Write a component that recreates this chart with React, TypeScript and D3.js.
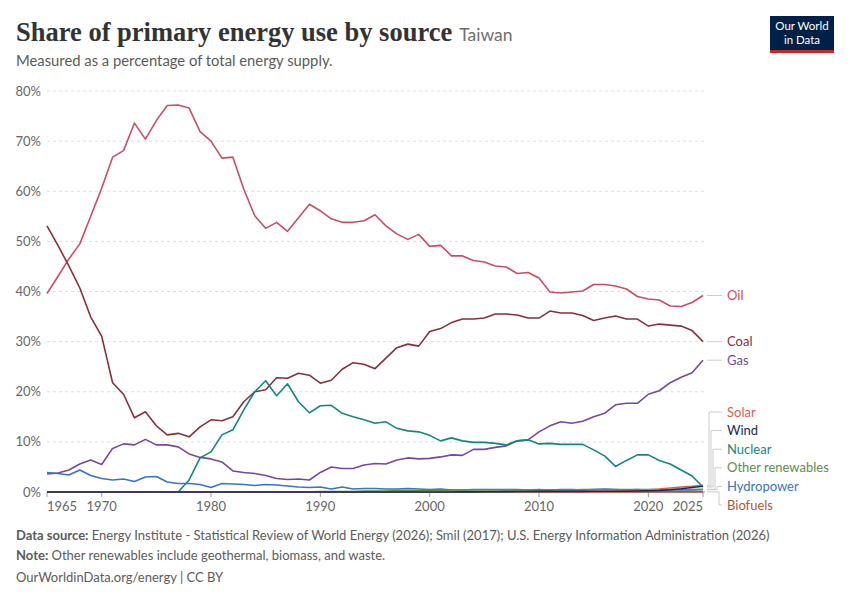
import * as d3 from 'd3'

const years = d3.range(1965, 2026)

const oil = [39.6, 43, 46.5, 49.5, 55, 60.6, 66.8, 68.1, 73.6, 70.4, 74.1, 77.1, 77.2, 76.6, 71.9, 70, 66.6, 66.8, 60.4, 55.1,
  52.6, 53.8, 52, 54.7, 57.4, 56.1, 54.5, 53.8, 53.8, 54.1, 55.3, 53.1, 51.5, 50.4, 51.4, 49, 49.2, 47.1, 47.1, 46.2,
  45.9, 45.1, 44.9, 43.6, 43.8, 42.7, 39.9, 39.7, 39.9, 40.1, 41.4, 41.4, 41.1, 40.5, 39, 38.5, 38.3, 37.1, 37, 37.8, 39.2]

const coal = [53.1, 49.2, 45.1, 40.7, 34.9, 31.1, 21.8, 19.5, 14.8, 16, 13.2, 11.4, 11.7, 11, 13, 14.4, 14.2, 15, 18, 20,
  20.4, 22.8, 22.7, 23.7, 23.3, 21.7, 22.3, 24.5, 25.8, 25.5, 24.6, 26.7, 28.8, 29.5, 29.1, 32, 32.6, 33.8, 34.5, 34.5,
  34.7, 35.5, 35.5, 35.3, 34.7, 34.7, 36.1, 35.7, 35.7, 35.2, 34.2, 34.7, 35.1, 34.5, 34.5, 33.1, 33.5, 33.3, 33.1, 32.2, 30]

const gas = [3.6, 3.8, 4.4, 5.6, 6.4, 5.5, 8.7, 9.6, 9.4, 10.5, 9.4, 9.4, 9, 7.6, 6.9, 6.6, 6, 4.2, 3.9, 3.7,
  3.3, 2.7, 2.5, 2.6, 2.4, 3.9, 5, 4.7, 4.7, 5.4, 5.7, 5.6, 6.4, 6.8, 6.6, 6.7, 7, 7.4, 7.3, 8.5,
  8.5, 8.9, 9.2, 10.2, 10.4, 12, 13.2, 14, 13.7, 14.1, 15, 15.7, 17.4, 17.7, 17.7, 19.5, 20.2, 21.8, 22.9, 23.8, 26.3]

const nuclear = [0, 0, 0, 0, 0, 0, 0, 0, 0, 0, 0, 0, 0, 2.4, 6.8, 8, 11.4, 12.4, 16.4, 20,
  22.2, 19.2, 21.6, 18, 15.8, 17.2, 17.3, 15.7, 15, 14.4, 13.7, 14, 12.7, 12.2, 12, 11.3, 10.2, 10.8, 10.2, 9.9,
  9.9, 9.7, 9.4, 10.2, 10.4, 9.6, 9.7, 9.5, 9.5, 9.5, 8.4, 7.2, 5.1, 6.3, 7.4, 7.4, 6.3, 5.6, 4.4, 3.2, 1.0]

const hydro = [3.9, 3.7, 3.4, 4.4, 3.3, 2.7, 2.4, 2.6, 2.1, 3, 3.1, 2, 1.7, 1.7, 1.5, 0.9, 1.7, 1.6, 1.5, 1.3,
  1.5, 1.4, 1.2, 1, 0.9, 1, 0.6, 1, 0.6, 0.7, 0.7, 0.6, 0.6, 0.7, 0.6, 0.5, 0.6, 0.4, 0.4, 0.5,
  0.5, 0.5, 0.5, 0.5, 0.4, 0.5, 0.4, 0.5, 0.5, 0.4, 0.5, 0.6, 0.5, 0.4, 0.5, 0.3, 0.3, 0.4, 0.4, 0.4, 0.45]

const otherRenewables = [0, 0, 0, 0, 0, 0, 0, 0, 0, 0, 0, 0, 0, 0, 0, 0, 0, 0, 0, 0,
  0, 0, 0, 0, 0, 0.1, 0.1, 0.1, 0.1, 0.2, 0.2, 0.2, 0.3, 0.3, 0.3, 0.3, 0.3, 0.4, 0.4, 0.4,
  0.4, 0.4, 0.4, 0.4, 0.4, 0.4, 0.4, 0.4, 0.4, 0.5, 0.5, 0.5, 0.5, 0.5, 0.5, 0.5, 0.5, 0.5, 0.5, 0.5, 0.55]

const biofuels = [0, 0, 0, 0, 0, 0, 0, 0, 0, 0, 0, 0, 0, 0, 0, 0, 0, 0, 0, 0,
  0, 0, 0, 0, 0, 0, 0, 0, 0, 0, 0, 0, 0, 0, 0, 0, 0, 0, 0, 0,
  0, 0, 0.01, 0.02, 0.03, 0.03, 0.03, 0.03, 0.02, 0.02, 0.02, 0.02, 0.02, 0.02, 0.02, 0.02, 0.02, 0.02, 0.02, 0.02, 0.02]

const solar = [0, 0, 0, 0, 0, 0, 0, 0, 0, 0, 0, 0, 0, 0, 0, 0, 0, 0, 0, 0,
  0, 0, 0, 0, 0, 0, 0, 0, 0, 0, 0, 0, 0, 0, 0, 0, 0, 0, 0, 0,
  0, 0, 0, 0, 0, 0.01, 0.02, 0.03, 0.05, 0.07, 0.1, 0.12, 0.15, 0.2, 0.3, 0.45, 0.6, 0.8, 1.0, 1.15, 1.35]

const wind = [0, 0, 0, 0, 0, 0, 0, 0, 0, 0, 0, 0, 0, 0, 0, 0, 0, 0, 0, 0,
  0, 0, 0, 0, 0, 0, 0, 0, 0, 0, 0, 0, 0, 0, 0, 0, 0.01, 0.01, 0.02, 0.03,
  0.04, 0.06, 0.08, 0.1, 0.1, 0.12, 0.12, 0.12, 0.13, 0.13, 0.14, 0.14, 0.14, 0.16, 0.2, 0.25, 0.3, 0.45, 0.65, 0.9, 1.15]

const series = [
  { name: 'Oil', values: oil, color: '#cb4d64', group: 'top' },
  { name: 'Coal', values: coal, color: '#86303d', group: 'top' },
  { name: 'Gas', values: gas, color: '#7548a0', group: 'top' },
  { name: 'Solar', values: solar, color: '#d9604f', group: 'bottom' },
  { name: 'Wind', values: wind, color: '#0f2c62', group: 'bottom' },
  { name: 'Nuclear', values: nuclear, color: '#11877f', group: 'bottom' },
  { name: 'Other renewables', values: otherRenewables, color: '#5f8d45', group: 'bottom' },
  { name: 'Hydropower', values: hydro, color: '#3a72c8', group: 'bottom' },
  { name: 'Biofuels', values: biofuels, color: '#a8593a', group: 'bottom' },
]

const drawOrder = ['Oil', 'Coal', 'Gas', 'Nuclear', 'Hydropower', 'Other renewables', 'Biofuels', 'Solar', 'Wind']
const yTicks = [0, 10, 20, 30, 40, 50, 60, 70, 80]
const xTicks = [1965, 1970, 1980, 1990, 2000, 2010, 2020, 2025]

const W = 850
const H = 600
const font = 'Lato, "Noto Sans", sans-serif'

export default function App() {
  const x = d3.scaleLinear().domain([1965, 2025]).range([47, 703])
  const y = d3.scaleLinear().domain([0, 80]).range([492, 91])

  const line = d3.line<number>()
    .x((_, i) => x(years[i]))
    .y(d => y(d))

  // label layout: top-down push, then pull the block up under the bottom limit
  const gap = 18.6
  const maxY = 505
  const labels = series.map(s => ({ ...s, target: y(s.values[s.values.length - 1]), pos: 0 }))
  labels.forEach((l, i) => {
    l.pos = i === 0 ? l.target : Math.max(l.target, labels[i - 1].pos + gap)
  })
  const overflow = labels[labels.length - 1].pos - maxY
  if (overflow > 0) {
    for (let i = labels.length - 1; i >= 0; i--) {
      const limit = i === labels.length - 1 ? maxY : labels[i + 1].pos - gap
      labels[i].pos = Math.min(labels[i].pos, limit)
    }
  }
  const bottomLabels = labels.filter(l => l.group === 'bottom')

  const ordered = drawOrder.map(n => series.find(s => s.name === n)!)

  return (
    <div style={{ position: 'absolute', left: 0, top: 0 }}>
      <svg width={W} height={H} style={{ display: 'block', background: '#fff' }}>
        <text x={16} y={41} fontFamily='"Liberation Serif", "DejaVu Serif", serif' fontSize={26.5} fontWeight={600} fill="#333">
          Share of primary energy use by source
          <tspan fontFamily={font} fontSize={17.5} fontWeight={400} fill="#6e6e6e" dx={7}>Taiwan</tspan>
        </text>
        <text x={16} y={66} fontFamily={font} fontSize={14.8} fill="#5b5b5b">
          Measured as a percentage of total energy supply.
        </text>

        <g>
          <rect x={770} y={16} width={64} height={37} fill="#002147" />
          <rect x={770} y={50} width={64} height={3} fill="#ce261e" />
          <text x={802} y={30} textAnchor="middle" fontFamily={font} fontSize={11.5} fill="#fff">Our World</text>
          <text x={802} y={44} textAnchor="middle" fontFamily={font} fontSize={11.5} fill="#fff">in Data</text>
        </g>

        {yTicks.map(t => (
          <g key={t}>
            {t > 0 && (
              <line x1={47} x2={705} y1={y(t)} y2={y(t)} stroke="#ddd" strokeDasharray="3,3" />
            )}
            <text x={41} y={y(t)} dy="0.35em" textAnchor="end" fontFamily={font} fontSize={13} fill="#666">
              {t}%
            </text>
          </g>
        ))}

        <line x1={47} x2={705} y1={y(0)} y2={y(0)} stroke="#999" />
        {xTicks.map((t, i) => (
          <g key={t}>
            <line x1={x(t)} x2={x(t)} y1={y(0)} y2={y(0) + 5} stroke="#999" />
            <text
              x={x(t)}
              y={511}
              textAnchor={i === 0 ? 'start' : i === xTicks.length - 1 ? 'end' : 'middle'}
              fontFamily={font}
              fontSize={13}
              fill="#666"
            >
              {t}
            </text>
          </g>
        ))}

        {ordered.map(s => (
          <path key={s.name} d={line(s.values) ?? ''} fill="none" stroke={s.color} strokeWidth={1.6} strokeLinejoin="round" />
        ))}

        {labels.map(l => {
          const moved = Math.abs(l.pos - l.target) > 2
          const bi = bottomLabels.indexOf(l)
          const bend = 709 + (bi < 0 ? 0 : bi * 2)
          const d = moved
            ? `M707,${l.target}H${bend}V${l.pos}H722`
            : `M707,${l.target}H722`
          return (
            <g key={l.name}>
              <path d={d} fill="none" stroke="#ccc" strokeWidth={1} />
              <text x={727} y={l.pos} dy="0.35em" fontFamily={font} fontSize={13} fill={l.color}>
                {l.name}
              </text>
            </g>
          )
        })}

        <text x={16} y={540} fontFamily={font} fontSize={13} fill="#5b5b5b">
          <tspan fontWeight={700}>Data source:</tspan> Energy Institute - Statistical Review of World Energy (2026); Smil (2017); U.S. Energy Information Administration (2026)
        </text>
        <text x={16} y={560} fontFamily={font} fontSize={13} fill="#5b5b5b">
          <tspan fontWeight={700}>Note:</tspan> Other renewables include geothermal, biomass, and waste.
        </text>
        <text x={16} y={582} fontFamily={font} fontSize={13} fill="#5b5b5b">
          OurWorldinData.org/energy | CC BY
        </text>
      </svg>
    </div>
  )
}
